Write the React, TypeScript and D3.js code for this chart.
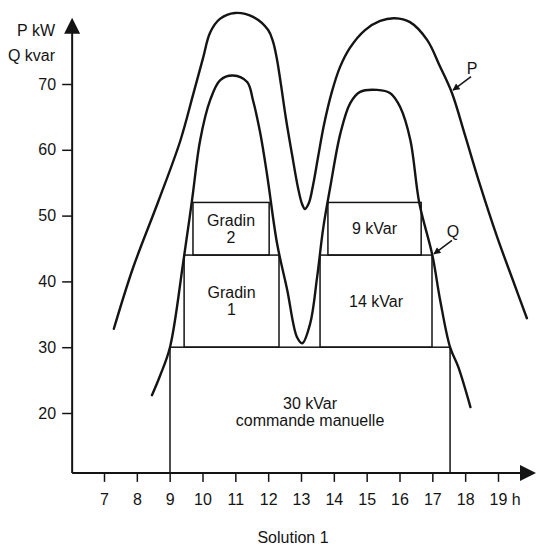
import { useEffect, useRef } from 'react';
import * as d3 from 'd3';

const WIDTH = 536;
const HEIGHT = 547;
const FONT = '"Liberation Sans", Arial, Helvetica, sans-serif';
const INK = '#141414';

// axis ticks
const HOUR_TICKS = [7, 8, 9, 10, 11, 12, 13, 14, 15, 16, 17, 18, 19];
const VALUE_TICKS = [20, 30, 40, 50, 60, 70];

// axis extent (hours / kW) -- origin sits a little below 20 and left of 7 h
const X_ORIGIN = 6.03;
const X_END = 19.7;
const Y_ORIGIN = 10.9;
const Y_END = 77.8;

// active power P (kW)
const P_HOURS = [7.3, 7.88, 8.65, 9.32, 9.71, 10.02, 10.23, 10.53, 10.99, 11.54, 12.0, 12.15, 12.27, 12.39, 12.54, 12.73, 12.91, 13.03, 13.12, 13.24, 13.37, 13.52, 13.7, 13.94, 14.19, 14.49, 14.95, 15.41, 15.86, 16.32, 16.84, 17.23, 17.6, 17.99, 18.45, 18.97, 19.46, 19.88];
const P_KW = [32.8, 42.0, 52.1, 61.3, 68.3, 74.0, 77.8, 79.9, 80.8, 80.2, 78.2, 76.4, 73.7, 69.9, 64.8, 59.2, 54.2, 51.8, 51.0, 51.9, 54.7, 58.9, 63.8, 68.8, 72.6, 75.5, 78.2, 79.6, 80.0, 79.4, 76.7, 72.7, 68.6, 62.3, 54.7, 46.8, 40.1, 34.4];

// reactive power Q (kvar)
const Q_HOURS = [8.46, 8.71, 9.01, 9.41, 9.68, 9.93, 10.23, 10.54, 10.93, 11.36, 11.54, 11.76, 11.97, 12.27, 12.58, 12.88, 13.04, 13.28, 13.49, 13.68, 13.89, 14.2, 14.5, 14.8, 15.32, 15.72, 16.02, 16.33, 16.6, 17.0, 17.24, 17.54, 17.79, 18.16];
const Q_KVAR = [22.7, 25.7, 30.0, 42.8, 52.3, 61.5, 67.5, 70.6, 71.3, 70.3, 67.5, 62.5, 56.1, 45.8, 38.7, 31.5, 30.6, 33.6, 40.6, 48.2, 54.3, 62.5, 67.1, 68.8, 69.1, 68.6, 66.5, 61.5, 52.0, 44.0, 37.1, 30.0, 27.0, 20.9];

// compensation steps
const STEP_LABELS = [['30 kVar', 'commande manuelle'], ['Gradin', '1'], ['Gradin', '2'], ['14 kVar'], ['9 kVar']];
const STEP_START = [9.01, 9.44, 9.71, 13.58, 13.82];
const STEP_END = [17.54, 12.33, 12.03, 16.99, 16.66];
const STEP_LOW = [Y_ORIGIN, 30, 44, 30, 44];
const STEP_HIGH = [30, 44, 52, 44, 52];

// curve call-outs: name, point on curve [h, value]
const NOTE_NAMES = ['P', 'Q'];
const NOTE_AT: [number, number][] = [[17.6, 69.0], [17.02, 44.1]];

export default function App() {
  const svgRef = useRef<SVGSVGElement>(null);

  useEffect(() => {
    if (!svgRef.current) return;
    const svg = d3.select(svgRef.current);
    svg.selectAll('*').remove();

    const x = d3.scaleLinear().domain([7, 19]).range([104, 498]);
    const y = d3.scaleLinear().domain([20, 70]).range([413, 84]);

    const x0 = x(X_ORIGIN);
    const y0 = y(Y_ORIGIN);

    const defs = svg.append('defs');
    defs.append('marker')
      .attr('id', 'note-arrow')
      .attr('viewBox', '0 0 10 10')
      .attr('refX', 9)
      .attr('refY', 5)
      .attr('markerWidth', 8)
      .attr('markerHeight', 7)
      .attr('markerUnits', 'userSpaceOnUse')
      .attr('orient', 'auto')
      .append('path')
      .attr('d', 'M0,0 L10,5 L0,10 z')
      .attr('fill', INK);

    // step boxes
    STEP_LABELS.forEach((lines, i) => {
      const bx0 = x(STEP_START[i]);
      const bx1 = x(STEP_END[i]);
      const by0 = y(STEP_HIGH[i]);
      const by1 = y(STEP_LOW[i]);
      svg.append('rect')
        .attr('x', bx0)
        .attr('y', by0)
        .attr('width', bx1 - bx0)
        .attr('height', by1 - by0)
        .attr('fill', 'none')
        .attr('stroke', INK)
        .attr('stroke-width', 1.5);

      const cx = (bx0 + bx1) / 2;
      const cy = (by0 + by1) / 2 + (i === 0 ? 1.5 : 0);
      lines.forEach((line, j) => {
        svg.append('text')
          .attr('x', cx)
          .attr('y', cy + (j - (lines.length - 1) / 2) * 17 + 5.6)
          .attr('text-anchor', 'middle')
          .attr('font-family', FONT)
          .attr('font-size', 16)
          .attr('fill', INK)
          .text(line);
      });
    });

    // curves
    const line = d3.line<[number, number]>()
      .x((d) => x(d[0]))
      .y((d) => y(d[1]))
      .curve(d3.curveCatmullRom.alpha(0.5));

    const pData = P_HOURS.map((h, i) => [h, P_KW[i]] as [number, number]);
    const qData = Q_HOURS.map((h, i) => [h, Q_KVAR[i]] as [number, number]);

    [pData, qData].forEach((data) => {
      svg.append('path')
        .datum(data)
        .attr('fill', 'none')
        .attr('stroke', INK)
        .attr('stroke-width', 2.4)
        .attr('stroke-linejoin', 'round')
        .attr('stroke-linecap', 'round')
        .attr('d', line);
    });

    // call-outs
    NOTE_NAMES.forEach((name, i) => {
      const tx = x(NOTE_AT[i][0]);
      const ty = y(NOTE_AT[i][1]);
      svg.append('line')
        .attr('x1', tx + 19)
        .attr('y1', ty - 14)
        .attr('x2', tx + 1)
        .attr('y2', ty - 0.5)
        .attr('stroke', INK)
        .attr('stroke-width', 1.5)
        .attr('marker-end', 'url(#note-arrow)');
      svg.append('text')
        .attr('x', tx + 20)
        .attr('y', ty - 17)
        .attr('text-anchor', 'middle')
        .attr('font-family', FONT)
        .attr('font-size', 16)
        .attr('fill', INK)
        .text(name);
    });

    // axes
    const xAxis = svg.append('g')
      .attr('transform', `translate(0,${y0})`)
      .call(
        d3.axisBottom(x)
          .tickValues(HOUR_TICKS)
          .tickSize(9)
          .tickPadding(12)
          .tickFormat((d) => ((d as number) === 19 ? '19 h' : String(d)))
      );
    xAxis.select('.domain').remove();
    xAxis.attr('font-family', FONT).attr('font-size', 16).attr('color', INK);
    xAxis.selectAll('line').attr('stroke-width', 1.5);
    xAxis.selectAll<SVGTextElement, number>('text')
      .filter((d) => d === 19)
      .attr('text-anchor', 'start')
      .attr('x', -9);

    const yAxis = svg.append('g')
      .attr('transform', `translate(${x0},0)`)
      .call(
        d3.axisLeft(y)
          .tickValues(VALUE_TICKS)
          .tickSize(10)
          .tickPadding(6)
      );
    yAxis.select('.domain').remove();
    yAxis.attr('font-family', FONT).attr('font-size', 16).attr('color', INK);
    yAxis.selectAll('line').attr('stroke-width', 1.5);

    const xEnd = x(X_END);
    const yEnd = y(Y_END);

    svg.append('line')
      .attr('x1', x0).attr('y1', y0)
      .attr('x2', xEnd).attr('y2', y0)
      .attr('stroke', INK).attr('stroke-width', 2);
    svg.append('line')
      .attr('x1', x0).attr('y1', y0)
      .attr('x2', x0).attr('y2', yEnd)
      .attr('stroke', INK).attr('stroke-width', 2);

    svg.append('path')
      .attr('d', `M${xEnd + 15},${y0} L${xEnd - 1},${y0 - 8} L${xEnd - 1},${y0 + 8} Z`)
      .attr('fill', INK);
    svg.append('path')
      .attr('d', `M${x0},${yEnd - 15} L${x0 - 8},${yEnd + 1} L${x0 + 8},${yEnd + 1} Z`)
      .attr('fill', INK);

    // axis titles
    [['P kW', 36], ['Q kvar', 61]].forEach(([label, baseline]) => {
      svg.append('text')
        .attr('x', 55)
        .attr('y', baseline as number)
        .attr('text-anchor', 'end')
        .attr('font-family', FONT)
        .attr('font-size', 16)
        .attr('fill', INK)
        .text(label as string);
    });

    svg.append('text')
      .attr('x', 293)
      .attr('y', 543)
      .attr('text-anchor', 'middle')
      .attr('font-family', FONT)
      .attr('font-size', 16)
      .attr('fill', INK)
      .text('Solution 1');
  }, []);

  return (
    <svg
      ref={svgRef}
      width={WIDTH}
      height={HEIGHT}
      style={{ position: 'absolute', left: 0, top: 0, background: '#fff' }}
    />
  );
}
